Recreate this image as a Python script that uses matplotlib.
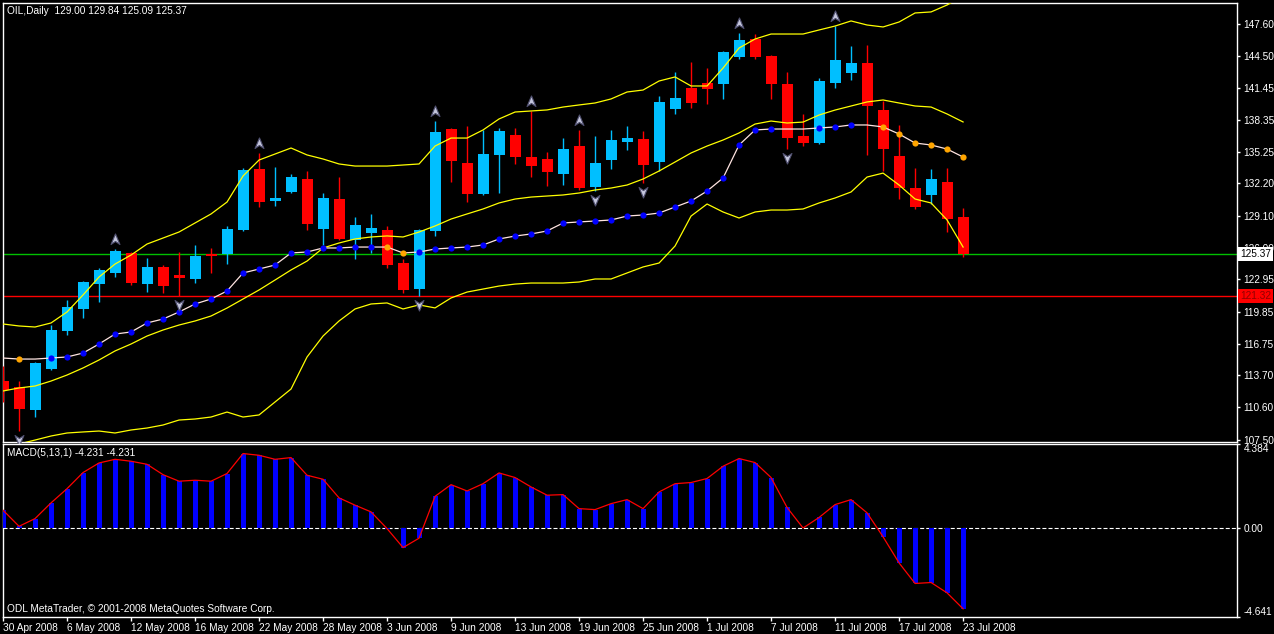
import numpy as np
import matplotlib.pyplot as plt
from matplotlib.path import Path
from matplotlib import transforms

plt.rcParams['font.family'] = ['Liberation Sans', 'DejaVu Sans']
plt.rcParams['lines.scale_dashes'] = False

# daily OIL candles, 30 Apr 2008 .. 23 Jul 2008
opens = [113.15, 112.57, 110.38, 114.31, 117.97, 120.10, 122.51, 123.57, 125.50, 122.51,
         124.15, 123.37, 122.99, 125.40, 125.40, 127.71, 133.60, 130.51, 131.38, 132.63,
         127.81, 130.70, 126.75, 127.42, 127.71, 124.53, 122.02, 127.62, 137.45, 134.17,
         131.18, 134.95, 136.87, 134.75, 134.56, 133.11, 135.81, 131.86, 134.46, 136.20,
         136.49, 134.27, 139.38, 141.40, 141.89, 141.79, 144.40, 146.13, 144.49, 141.79,
         136.78, 136.10, 141.89, 142.85, 143.82, 139.28, 134.85, 131.76, 131.09, 132.34,
         129.00]
highs = [114.60, 113.15, 114.95, 118.55, 120.96, 122.80, 124.05, 125.88, 125.55, 125.01,
         124.34, 125.59, 126.27, 125.98, 128.10, 133.69, 135.14, 133.79, 133.11, 133.40,
         131.28, 132.82, 128.97, 129.26, 128.10, 124.92, 127.81, 138.22, 137.55, 137.74,
         137.36, 137.55, 137.55, 139.19, 135.24, 136.59, 137.36, 136.78, 137.36, 137.74,
         137.26, 140.63, 142.95, 143.91, 143.33, 144.97, 146.71, 146.61, 144.55, 142.95,
         138.90, 142.37, 147.38, 145.46, 145.55, 140.15, 137.84, 133.69, 133.60, 133.69,
         129.84]
lows = [111.13, 108.36, 109.71, 114.25, 117.59, 119.23, 120.77, 123.18, 122.41, 121.73,
        121.64, 121.35, 122.60, 123.57, 124.43, 127.65, 129.93, 130.03, 131.28, 127.71,
        126.27, 126.75, 124.92, 125.50, 124.05, 121.64, 121.35, 127.13, 132.34, 130.41,
        131.09, 131.28, 134.08, 132.82, 131.96, 132.05, 131.57, 131.47, 133.59, 135.43,
        132.25, 133.40, 138.90, 139.48, 139.86, 140.35, 144.20, 144.20, 140.35, 135.52,
        135.81, 136.05, 141.40, 142.18, 134.95, 133.40, 130.70, 129.74, 130.22, 127.52,
        125.09]
closes = [112.28, 110.48, 114.89, 118.07, 120.29, 122.70, 123.86, 125.69, 122.60, 124.15,
          122.31, 123.11, 125.21, 125.21, 127.81, 133.50, 130.41, 130.80, 132.82, 128.29,
          130.80, 126.85, 128.20, 127.90, 124.34, 121.93, 127.71, 137.17, 134.37, 131.18,
          135.04, 137.26, 134.75, 133.88, 133.30, 135.52, 131.76, 134.17, 136.39, 136.59,
          133.98, 140.05, 140.44, 139.96, 141.31, 144.88, 146.04, 144.40, 141.79, 136.58,
          136.10, 142.08, 144.11, 143.82, 139.67, 135.52, 131.76, 129.93, 132.63, 128.77,
          125.37]

# Bollinger bands
bb_upper = [118.65, 118.46, 118.36, 118.75, 119.81, 121.45, 123.18, 124.43, 125.30, 126.36,
            126.94, 127.52, 128.39, 129.26, 130.41, 132.92, 134.46, 135.04, 135.62, 134.95,
            134.56, 134.08, 133.88, 133.88, 133.88, 133.98, 134.08, 135.81, 136.58, 136.58,
            137.36, 138.42, 139.09, 139.19, 139.29, 139.57, 139.77, 139.96, 140.35, 141.02,
            141.21, 142.08, 142.47, 141.60, 141.60, 143.33, 145.26, 146.13, 146.61, 146.61,
            146.61, 147.00, 147.38, 147.87, 147.48, 147.29, 147.77, 148.64, 148.74, 149.41,
            150.28]
bb_middle = [112.19, 112.48, 112.67, 113.15, 113.73, 114.41, 115.18, 116.05, 116.72, 117.49,
             118.07, 118.55, 118.94, 119.42, 120.19, 121.06, 121.93, 122.89, 123.86, 124.72,
             125.98, 126.46, 126.85, 127.04, 127.14, 127.04, 127.52, 128.10, 128.77, 129.26,
             129.74, 130.32, 130.70, 130.89, 130.99, 131.09, 131.28, 131.57, 131.76, 132.05,
             132.63, 133.40, 134.27, 135.14, 135.81, 136.39, 137.07, 137.93, 138.22, 138.03,
             138.12, 138.80, 139.28, 139.67, 140.06, 140.25, 139.96, 139.67, 139.57, 138.90,
             138.13]
bb_lower = [106.79, 107.08, 107.46, 107.85, 108.14, 108.24, 108.33, 108.14, 108.43, 108.62,
            108.91, 109.39, 109.49, 109.68, 110.16, 109.68, 109.88, 111.13, 112.38, 115.47,
            117.49, 118.94, 120.10, 120.58, 120.68, 120.10, 120.49, 120.20, 121.16, 121.73,
            122.02, 122.31, 122.50, 122.60, 122.60, 122.60, 122.70, 122.99, 122.99, 123.57,
            124.15, 124.53, 126.17, 129.06, 130.22, 129.45, 128.87, 129.45, 129.64, 129.64,
            129.74, 130.32, 130.80, 131.38, 132.82, 133.20, 132.05, 130.70, 130.32, 128.68,
            126.07]

# dotted trend line, 'u' = blue dot, 'd' = orange dot, '' = no dot
trend = [115.37, 115.27, 115.27, 115.37, 115.47, 115.85, 116.72, 117.68, 117.88, 118.75,
         119.13, 119.81, 120.58, 121.06, 121.83, 123.57, 123.95, 124.34, 125.50, 125.59,
         125.98, 125.98, 126.07, 126.07, 126.07, 125.50, 125.59, 125.88, 125.98, 126.07,
         126.27, 126.85, 127.13, 127.33, 127.62, 128.39, 128.49, 128.58, 128.68, 129.06,
         129.16, 129.35, 129.93, 130.51, 131.47, 132.73, 135.91, 137.36, 137.45, 137.45,
         137.45, 137.55, 137.65, 137.84, 137.84, 137.65, 136.97, 136.10, 135.91, 135.52,
         134.75]
trend_state = ([''] + ['d'] + [''] + ['u'] * 21 + ['d'] * 2 + ['u'] * 23 + [''] * 2
               + ['u'] * 3 + [''] + ['d'] * 6)

# fractals (bar index)
fractal_up = [7, 16, 27, 33, 36, 46, 52]
fractal_down = [1, 11, 26, 37, 40, 49]

# MACD(5,13,1)
macd = [0.91, 0.07, 0.47, 1.29, 2.03, 2.87, 3.37, 3.56, 3.46, 3.30,
        2.76, 2.42, 2.47, 2.42, 2.82, 3.86, 3.77, 3.56, 3.65, 2.73,
        2.52, 1.55, 1.17, 0.82, -0.05, -1.04, -0.55, 1.63, 2.24, 1.91,
        2.29, 2.85, 2.61, 2.12, 1.69, 1.72, 0.99, 0.94, 1.25, 1.46,
        0.99, 1.86, 2.29, 2.35, 2.56, 3.20, 3.60, 3.39, 2.61, 1.05,
        -0.02, 0.53, 1.20, 1.46, 0.77, -0.48, -1.84, -2.91, -2.86, -3.40,
        -4.231]

price_ticks = [147.60, 144.50, 141.45, 138.35, 135.25, 132.20, 129.10, 126.00,
               122.95, 119.85, 116.75, 113.70, 110.60, 107.50]
date_labels = ['30 Apr 2008', '6 May 2008', '12 May 2008', '16 May 2008', '22 May 2008',
               '28 May 2008', '3 Jun 2008', '9 Jun 2008', '13 Jun 2008', '19 Jun 2008',
               '25 Jun 2008', '1 Jul 2008', '7 Jul 2008', '11 Jul 2008', '17 Jul 2008',
               '23 Jul 2008']
bid_price = 125.37
level_price = 121.32

W, H = 1274, 634
fig = plt.figure(figsize=(W / 100, H / 100), dpi=100, facecolor='black')


def px_rect(l, t, r, b):
    return [l / W, 1 - b / H, (r - l) / W, (b - t) / H]


ax = fig.add_axes(px_rect(2.7, 2.7, 1236.7, 441.5))
ax2 = fig.add_axes(px_rect(2.7, 443.5, 1236.7, 616.7))
for a in (ax, ax2):
    a.set_facecolor('black')
    for s in a.spines.values():
        s.set_color('white')
        s.set_linewidth(1)
    a.set_xlim(-0.02, 77.1)

x = np.arange(len(opens))
o, h, l, c = map(np.array, (opens, highs, lows, closes))
cols = np.where(c >= o, '#00bfff', '#ff0000')

# horizontal lines
ax.axhline(bid_price, color='#00c000', lw=1, zorder=2)
ax.axhline(level_price, color='#ff0000', lw=1, zorder=2)

# candles
ax.vlines(x, l, h, colors=cols, lw=1, zorder=3)
ax.bar(x, np.maximum(np.abs(c - o), 0.12), bottom=np.minimum(o, c), width=0.69,
       color=cols, linewidth=0, zorder=4)

# Bollinger bands
for band in (bb_upper, bb_middle, bb_lower):
    ax.plot(x, band, color='#ffff00', lw=0.9, zorder=5)

# trend line with dots
ax.plot(x, trend, color='#ffe4e1', lw=0.9, zorder=6)
tr = np.array(trend)
st = np.array(trend_state)
ax.scatter(x[st == 'u'], tr[st == 'u'], s=20, color='#0000ff', zorder=7, linewidths=0)
ax.scatter(x[st == 'd'], tr[st == 'd'], s=20, color='#ffa500', zorder=7, linewidths=0)

# fractal arrows
up_arrow = Path([(0, 1), (0.8, -0.9), (0, -0.35), (-0.8, -0.9), (0, 1)],
                [Path.MOVETO, Path.LINETO, Path.LINETO, Path.LINETO, Path.CLOSEPOLY])
down_arrow = Path([(0, -1), (0.8, 0.9), (0, 0.35), (-0.8, 0.9), (0, -1)],
                  [Path.MOVETO, Path.LINETO, Path.LINETO, Path.LINETO, Path.CLOSEPOLY])
tr_up = transforms.offset_copy(ax.transData, fig=fig, y=7.2, units='points')
tr_dn = transforms.offset_copy(ax.transData, fig=fig, y=-6.5, units='points')
ax.plot(fractal_up, h[fractal_up], ls='none', marker=up_arrow, ms=8, mfc='#c4c6dc',
        mec='#505070', mew=0.8, transform=tr_up, zorder=8)
ax.plot(fractal_down, l[fractal_down], ls='none', marker=down_arrow, ms=8, mfc='#c4c6dc',
        mec='#505070', mew=0.8, transform=tr_dn, zorder=8, clip_on=False)

ax.set_ylim(107.32, 149.63)
ax.yaxis.tick_right()
ax.set_yticks(price_ticks)
ax.set_yticklabels([f'{v:.2f}' for v in price_ticks])
ax.tick_params(axis='y', colors='white', length=2, width=1, pad=3, labelsize=7.3)
ax.tick_params(axis='x', bottom=False, labelbottom=False)

blend = transforms.blended_transform_factory(ax.transAxes, ax.transData)
ax.text(1.003, bid_price, f'{bid_price:.2f}', transform=blend, ha='left', va='center',
        fontsize=7.3, color='black', clip_on=False, zorder=20,
        bbox=dict(facecolor='white', edgecolor='none', boxstyle='square,pad=0.2'))
ax.text(1.003, level_price, f'{level_price:.2f}', transform=blend, ha='left', va='center',
        fontsize=7.3, color='#900000', clip_on=False, zorder=20,
        bbox=dict(facecolor='#ff0000', edgecolor='none', boxstyle='square,pad=0.2'))

# MACD panel
ax2.bar(x, macd, width=0.31, color='#0000ff', linewidth=0, zorder=3)
ax2.plot(x, macd, color='#ff0000', lw=0.9, zorder=4)
ax2.axhline(0, color='white', lw=0.8, dashes=(2.9, 1.5), zorder=2)
ax2.set_ylim(-4.641, 4.384)
ax2.yaxis.tick_right()
ax2.set_yticks([4.384, 0, -4.641])
ax2.set_yticklabels(['4.384', '0.00', '-4.641'])
ylab = ax2.get_yticklabels()
ylab[0].set_verticalalignment('top')
ylab[2].set_verticalalignment('bottom')
ax2.tick_params(axis='y', colors='white', length=2, width=1, pad=3, labelsize=7.3)
ax2.set_xticks(np.arange(0, len(opens), 4))
ax2.set_xticklabels(date_labels)
for t in ax2.get_xticklabels():
    t.set_horizontalalignment('left')
ax2.tick_params(axis='x', colors='white', length=3, width=1, pad=1.5, labelsize=7.3)

fig.text(7 / W, 1 - 10.5 / H, 'OIL,Daily  129.00 129.84 125.09 125.37', color='white',
         fontsize=7.3, va='center', ha='left')
fig.text(7 / W, 1 - 453.5 / H, 'MACD(5,13,1) -4.231 -4.231', color='white',
         fontsize=7.3, va='center', ha='left')
fig.text(7 / W, 1 - 608.5 / H, 'ODL MetaTrader, \u00a9 2001-2008 MetaQuotes Software Corp.',
         color='white', fontsize=7.3, va='center', ha='left')

fig.savefig('out.png', dpi=100, facecolor='black')
